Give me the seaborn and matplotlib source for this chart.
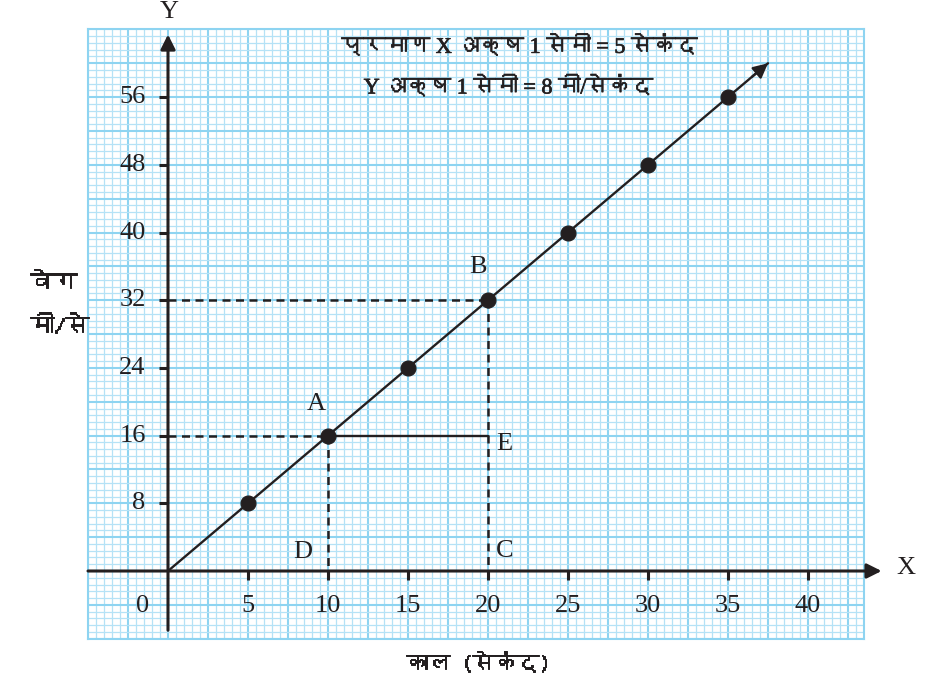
import numpy as np
import seaborn as sns
from matplotlib import pyplot as plt
from matplotlib import font_manager
from matplotlib import patheffects
from matplotlib.ft2font import FT2Font

# data
time_s = [5, 10, 15, 20, 25, 30, 35]
velocity = [8, 16, 24, 32, 40, 48, 56]
x_ticks = [5, 10, 15, 20, 25, 30, 35, 40]
y_ticks = [8, 16, 24, 32, 40, 48, 56]
line_x = [0, 37.5]
line_y = [0, 60]
point_A = (10, 16)
point_B = (20, 32)
point_E = (20, 16)

title1 = "प्रमाण X अक्ष 1 सेमी = 5 सेकंद"
title2 = "Y अक्ष 1 सेमी = 8 मी/सेकंद"
ylabel1 = "वेग"
ylabel2 = "मी/से"
xlabel = "काल (सेकंद)"

sns.set_style('white')

# look for any installed font that has Devanagari glyphs
deva = []
for f in font_manager.fontManager.ttflist:
    try:
        if 0x0915 in FT2Font(f.fname).get_charmap() and f.name not in deva:
            deva.append(f.name)
    except Exception:
        pass
serif = ['Liberation Serif'] + deva[:1] + ['DejaVu Sans']
hindi = deva[:1] + ['DejaVu Sans']
plt.rcParams['font.family'] = serif

ink = '#231f20'
# thin stroke so the Devanagari looks bold like the print
heavy = [patheffects.withStroke(linewidth=0.7, foreground=ink)]
semi = [patheffects.withStroke(linewidth=0.5, foreground=ink)]

W, H = 927, 686
fig = plt.figure(figsize=(W / 100, H / 100), dpi=100)
ax = fig.add_axes([88 / W, 1 - 638.7 / H, (864 - 88) / W, (638.7 - 29.4) / H])
ax.set_xlim(-5, 43.5)
ax.set_ylim(-8, 64)

# graph paper
ax.set_xticks(np.arange(-5, 43.6, 2.5))
ax.set_xticks(np.arange(-5, 43.6, 0.5), minor=True)
ax.set_yticks(np.arange(-8, 64.1, 4))
ax.set_yticks(np.arange(-8, 64.1, 0.8), minor=True)
ax.tick_params(which='both', length=0, labelbottom=False, labelleft=False)
ax.grid(which='minor', color='#b5e2f6', lw=0.9)
ax.grid(which='major', color='#8ed4f1', lw=1.5)
ax.set_axisbelow(True)
for s in ax.spines.values():
    s.set_color('#8ed4f1')
    s.set_linewidth(1.5)

# axes with arrows
ax.annotate('', xy=(44.6, 0), xytext=(-5, 0), annotation_clip=False,
            arrowprops=dict(arrowstyle='-|>', color=ink, lw=2.2, mutation_scale=22, shrinkA=0, shrinkB=0))
ax.annotate('', xy=(0, 63.4), xytext=(0, -7), annotation_clip=False,
            arrowprops=dict(arrowstyle='-|>', color=ink, lw=2.2, mutation_scale=22, shrinkA=0, shrinkB=0))
ax.text(46.1, 0.4, 'X', fontsize=19, ha='center', va='center', color=ink, clip_on=False)
ax.text(0.1, 66.1, 'Y', fontsize=19, ha='center', va='center', color=ink, clip_on=False)

# ticks and labels
for t in x_ticks:
    ax.plot([t, t], [0, -1.1], color=ink, lw=2.2, solid_capstyle='butt')
    ax.text(t, -4.1, str(t), fontsize=19, ha='center', va='center', color=ink)
for t in y_ticks:
    ax.plot([-0.55, 0], [t, t], color=ink, lw=2.2, solid_capstyle='butt')
    ax.text(-1.4, t, str(t), fontsize=19, ha='right', va='center', color=ink)
ax.text(-1.6, -4.1, '0', fontsize=19, ha='center', va='center', color=ink)

# main line and points
sns.lineplot(x=line_x, y=line_y, ax=ax, color=ink, lw=1.7, zorder=4)
ax.annotate('', xy=(line_x[1], line_y[1]), xytext=(line_x[1] - 1, line_y[1] - 1.6),
            arrowprops=dict(arrowstyle='-|>', color=ink, lw=1.7, mutation_scale=22, shrinkA=0, shrinkB=0))
sns.scatterplot(x=time_s, y=velocity, ax=ax, s=115, color=ink, edgecolor=ink, zorder=6)

# construction lines
dash = dict(color=ink, lw=1.8, dashes=(3.2, 2.2), zorder=3)
ax.plot([0, point_B[0]], [point_B[1], point_B[1]], **dash)
ax.plot([point_B[0], point_B[0]], [point_B[1], 0], **dash)
ax.plot([0, point_A[0]], [point_A[1], point_A[1]], **dash)
ax.plot([point_A[0], point_A[0]], [point_A[1], 0], **dash)
ax.plot([point_A[0], point_E[0]], [point_A[1], point_E[1]], color=ink, lw=1.7, zorder=3)

ax.text(9.25, 19.7, 'A', fontsize=19, ha='center', va='center', color=ink)
ax.text(19.4, 35.9, 'B', fontsize=19, ha='center', va='center', color=ink)
ax.text(20.5, 15.0, 'E', fontsize=19, ha='left', va='center', color=ink)
ax.text(8.45, 2.3, 'D', fontsize=19, ha='center', va='center', color=ink)
ax.text(20.5, 2.4, 'C', fontsize=19, ha='left', va='center', color=ink)

# scale note
ax.text(22, 61.9, title1, fontsize=16, ha='center', va='center', color=ink,
        family=serif, path_effects=semi)
ax.text(21.3, 57.1, title2, fontsize=16, ha='center', va='center', color=ink,
        family=serif, path_effects=semi)

# outer labels
fig.text(30 / W, 1 - 283 / H, ylabel1, fontsize=17, ha='left', va='center', color=ink,
         family=hindi, path_effects=heavy)
fig.text(30 / W, 1 - 326 / H, ylabel2, fontsize=17, ha='left', va='center', color=ink,
         family=hindi, path_effects=heavy)
fig.text(478 / W, 1 - 663 / H, xlabel, fontsize=16, ha='center', va='center', color=ink,
         family=hindi, path_effects=heavy)

fig.savefig('out.png', dpi=100)
